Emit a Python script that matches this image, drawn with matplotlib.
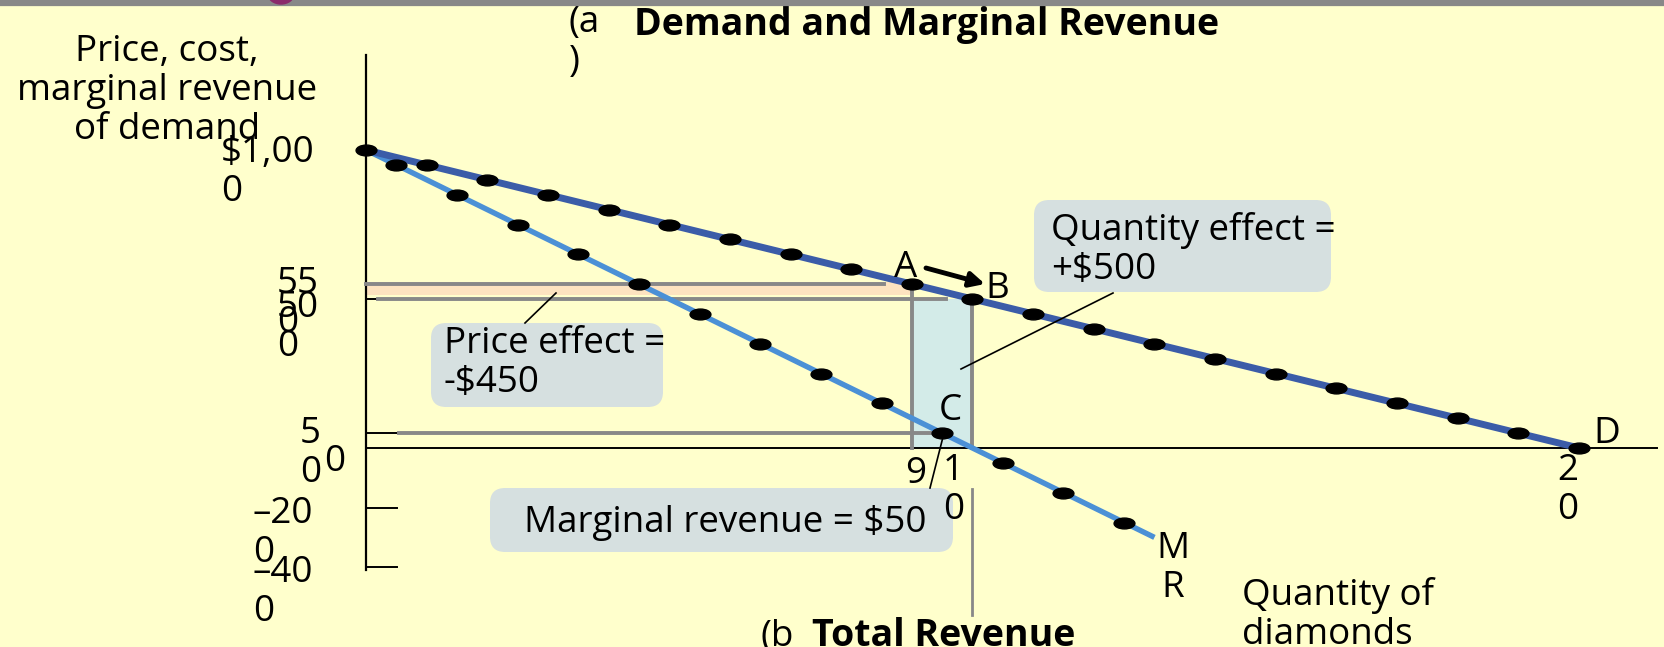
import matplotlib
matplotlib.use("Agg")
import matplotlib.pyplot as plt
from matplotlib.patches import FancyBboxPatch, Ellipse
from matplotlib.path import Path
from matplotlib.transforms import Affine2D

# ── DATA ──────────────────────────────────────────────────────────────────────
quantity = [0, 1, 2, 3, 4, 5, 6, 7, 8, 9, 10, 11, 12, 13, 14, 15, 16, 17, 18, 19, 20]
demand_price = [1000, 950, 900, 850, 800, 750, 700, 650, 600, 550, 500,
                450, 400, 350, 300, 250, 200, 150, 100, 50, 0]
mr_quantity = [0.5, 1.5, 2.5, 3.5, 4.5, 5.5, 6.5, 7.5, 8.5, 9.5, 10.5, 11.5, 12.5]
mr_value = [950, 850, 750, 650, 550, 450, 350, 250, 150, 50, -50, -150, -250]
mr_line_q = [0, 13]
mr_line_p = [1000, -300]

q_a, q_b = 9, 10          # points A and B on demand
p_a, p_b = 550, 500
q_c, mr_c = 9.5, 50       # point C on MR

y_tick_vals = [550, 500, 50, -200, -400]
y_label_text = ["$1,00\n0", "55\n0", "50\n0", "5\n0", "0", "–20\n0", "–40\n0"]
x_label_vals = [9, 10, 20]
x_label_text = ["9", "1\n0", "2\n0"]

# ── LAYOUT (pixel geometry of the original) ───────────────────────────────────
W, H, DPI = 1665, 647, 100
X0, Y0 = 366, 448          # pixel position of origin
SX, SY = 60.65, 0.298      # pixels per unit of quantity / per dollar
STEP = 36                  # line step of wrapped text, px

BG = "#ffffcc"
DEMAND_C = "#3b5ca8"
MR_C = "#4b90d6"
GRAY = "#888888"
BOX_C = "#d6e0e0"
FS = 26.5
FONT = "Open Sans"


def px(x, y):
    """pixel position -> data coordinates"""
    return (x - X0) / SX, (Y0 - y) / SY


fig = plt.figure(figsize=(W / DPI, H / DPI), dpi=DPI)
fig.patch.set_facecolor(BG)
ax = fig.add_axes([0, 0, 1, 1])
ax.set_facecolor(BG)
ax.set_xlim(-X0 / SX, (W - X0) / SX)
ax.set_ylim(-(H - Y0) / SY, Y0 / SY)
ax.axis("off")


def label(x, y, text, ha="left", **kw):
    """place text with the baseline of its first line at pixel y"""
    n = text.count("\n")
    ax.text(*px(x, y + n * STEP), text, ha=ha, va="baseline", fontsize=kw.pop("fontsize", FS),
            family=FONT, linespacing=1.12, multialignment=ha, zorder=7, **kw)


# top rule
ax.add_patch(Ellipse(px(281, -6), 26 / SX, 20 / SY, color="#8b2a6b", zorder=11))
ax.axhline(px(0, 3)[1], color=GRAY, lw=4.5, zorder=10)

# shaded effects
ax.fill_between([0, q_a], px(0, 295)[1], px(0, 282)[1], color="#fde3c0", lw=0, zorder=1)
ax.fill_between([q_a, q_b], 0, p_b, color="#d3ebe8", lw=0, zorder=1)

# axes lines and ticks
ax.plot([0, 0], [px(0, 570)[1], px(0, 55)[1]], color="black", lw=1.6, zorder=3)
ax.plot([0, px(1657, 0)[0]], [0, 0], color="black", lw=1.4, zorder=3)
for v in y_tick_vals:
    ax.plot([0, 31 / SX], [v, v], color="black", lw=1.4, zorder=3)

# guide lines
ax.plot([0, px(884, 0)[0]], [p_a, p_a], color=GRAY, lw=2.8, zorder=4)
ax.plot([px(378, 0)[0], px(946, 0)[0]], [p_b, p_b], color=GRAY, lw=2.8, zorder=4)
ax.plot([px(399, 0)[0], q_c], [mr_c, mr_c], color=GRAY, lw=2.8, zorder=4)
ax.plot([q_a, q_a], [0, p_a], color=GRAY, lw=2.8, zorder=4)
ax.plot([q_b, q_b], [0, p_b], color=GRAY, lw=2.8, zorder=4)
ax.plot([q_b, q_b], [px(0, 615)[1], px(0, 489)[1]], color=GRAY, lw=2.0, zorder=4)

# curves
dot = Path.unit_circle().transformed(Affine2D().scale(1, 0.52))
ax.plot(mr_line_q, mr_line_p, color=MR_C, lw=3.9, zorder=5, solid_capstyle="butt")
ax.plot(quantity, demand_price, color=DEMAND_C, lw=5, zorder=5, solid_capstyle="butt")
ax.plot(mr_quantity, mr_value, ls="none", marker=dot, ms=15, color="black", zorder=6)
ax.plot(quantity, demand_price, ls="none", marker=dot, ms=15, color="black", zorder=6)

# tick labels
y_label_left = [221, 277, 277, 300, 324, 253, 253]
y_label_base = [165, 296, 320, 446, 471, 526, 585]
for t, xl, yb in zip(y_label_text, y_label_left, y_label_base):
    label(xl, yb, t)
x_label_left = [905, 943, 1557]
for t, xl in zip(x_label_text, x_label_left):
    label(xl, 483, t)

# axis titles
label(167, 67, "Price, cost,\nmarginal revenue\nof demand", ha="center")
label(1242, 608, "Quantity of\ndiamonds")
label(569, 35, "(a\n)")
label(634, 35, "Demand and Marginal Revenue", weight="bold", fontsize=27)
label(761, 646, "(b")
label(812, 646, "Total Revenue", weight="bold", fontsize=27)

# point labels
for t, xc, yb in [("A", 906, 277), ("B", 997, 298), ("C", 950, 420), ("D", 1607, 443)]:
    label(xc, yb, t, ha="center")
label(1173, 561, "M\nR", ha="center")

ax.annotate("", xy=px(985, 284), xytext=px(926, 268),
            arrowprops=dict(arrowstyle="-|>", lw=3.5, color="black",
                            mutation_scale=22, shrinkA=0, shrinkB=0), zorder=8)

# callout boxes
for x0, y0, x1, y1 in [(431, 323, 663, 407), (1034, 200, 1331, 292), (490, 488, 953, 552)]:
    (a, b), (c, d) = px(x0, y1), px(x1, y0)
    ax.add_patch(FancyBboxPatch((a, b), c - a, d - b,
                                boxstyle="round,pad=0,rounding_size=0.25",
                                mutation_aspect=SX / SY,
                                fc=BOX_C, ec="none", zorder=6))

label(444, 356, "Price effect =\n-$450")
label(1051, 243, "Quantity effect =\n+$500")
label(524, 532, "Marginal revenue = $50")

# leader lines
for (xa, ya), (xb, yb) in [((525, 323), (556, 293)), ((1113, 293), (961, 369)),
                           ((930, 488), (943, 437))]:
    p1, p2 = px(xa, ya), px(xb, yb)
    ax.plot([p1[0], p2[0]], [p1[1], p2[1]], color="black", lw=1.2, zorder=7)

fig.savefig("out.png", dpi=DPI, facecolor=BG)
